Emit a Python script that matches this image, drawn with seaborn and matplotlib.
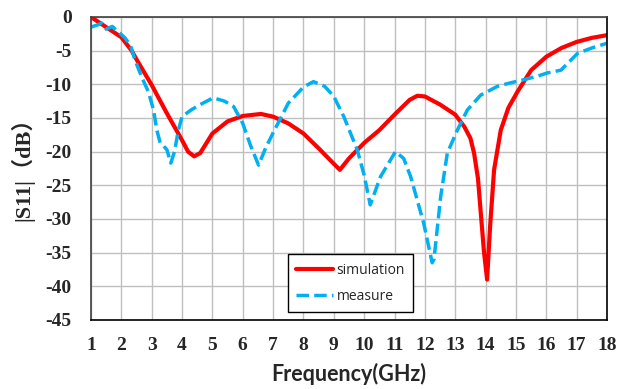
import numpy as np
import pandas as pd
import seaborn as sns
import matplotlib.pyplot as plt

# simulated S11
sim_freq = [1.0, 1.5, 2.0, 2.34, 2.5, 2.75, 3.0, 3.5, 4.0, 4.2, 4.4, 4.6, 5.0, 5.5, 6.0,
            6.6, 7.0, 7.5, 8.0, 8.5, 9.0, 9.2, 9.5, 10.0, 10.5, 11.0, 11.5, 11.75, 12.0,
            12.5, 13.0, 13.3, 13.5, 13.62, 13.75, 13.84, 13.95, 14.05, 14.15, 14.28,
            14.5, 14.75, 15.05, 15.5, 16.0, 16.5, 17.0, 17.5, 18.0]
sim_s11 = [0.0, -1.5, -3.0, -5.0, -6.3, -8.2, -10.1, -14.3, -18.3, -20.0, -20.7, -20.2,
           -17.3, -15.5, -14.7, -14.4, -14.8, -15.8, -17.3, -19.5, -21.8, -22.7, -21.0,
           -18.7, -16.8, -14.5, -12.3, -11.7, -11.8, -13.0, -14.5, -16.3, -18.0, -20.2,
           -24.0, -29.0, -35.0, -39.0, -31.0, -22.7, -16.8, -13.5, -11.1, -7.9, -5.9,
           -4.6, -3.7, -3.1, -2.7]

meas_freq = [1.0, 1.2, 1.35, 1.5, 1.7, 1.9, 2.12, 2.3, 2.45, 2.67, 2.89, 3.06, 3.17,
             3.28, 3.4, 3.5, 3.63, 3.75, 3.88, 4.0, 4.3, 4.6, 5.03, 5.4, 5.7, 6.0,
             6.25, 6.52, 6.75, 7.0, 7.5, 8.0, 8.33, 8.7, 9.0, 9.33, 9.77, 10.0, 10.2,
             10.54, 11.03, 11.3, 11.53, 11.96, 12.24, 12.3, 12.52, 12.74, 13.07,
             13.4, 13.84, 14.39, 14.8, 15.27, 15.7, 16.04, 16.48, 17.03, 17.5, 18.0]
meas_s11 = [-1.5, -1.2, -0.9, -1.8, -1.4, -2.2, -3.1, -4.2, -6.4, -8.9, -11.1, -13.8,
            -16.8, -18.7, -19.2, -19.7, -21.7, -20.0, -16.8, -14.8, -13.8, -13.0,
            -12.0, -12.5, -13.3, -15.8, -19.0, -22.0, -19.5, -17.2, -12.8, -10.4,
            -9.6, -10.3, -11.8, -14.8, -19.7, -23.5, -27.9, -23.7, -20.0, -21.0,
            -23.7, -30.6, -36.5, -36.0, -26.7, -20.2, -16.8, -13.8, -11.6, -10.3,
            -9.8, -9.3, -8.8, -8.3, -7.9, -5.4, -4.6, -3.9]

sim_df = pd.DataFrame({'freq': sim_freq, 's11': sim_s11})
meas_df = pd.DataFrame({'freq': meas_freq, 's11': meas_s11})

sns.set_style("whitegrid")
plt.rcParams['font.family'] = ['Liberation Serif', 'Noto Sans CJK SC']
plt.rcParams['axes.unicode_minus'] = False

fig = plt.figure(figsize=(6.3, 3.89), dpi=100)
ax = fig.add_axes([0.1444, 0.1774, 0.8191, 0.7789])

sns.lineplot(data=sim_df, x='freq', y='s11', ax=ax, color='#FF0000',
             linewidth=3.0, label='simulation', sort=False)
sns.lineplot(data=meas_df, x='freq', y='s11', ax=ax, color='#00B0F0',
             linewidth=2.5, label='measure', sort=False)
ax.lines[1].set_dashes([3.6, 1.5])

ax.set_xlim(1, 18)
ax.set_ylim(-45, 0)
ax.set_xticks(range(1, 19))
ax.set_yticks(range(-45, 1, 5))
ax.grid(True, color='#BFBFBF', linewidth=1.0)
ax.tick_params(axis='both', length=0, labelsize=14)
ax.tick_params(axis='x', pad=12)
ax.tick_params(axis='y', pad=14)
for lab in ax.get_xticklabels() + ax.get_yticklabels():
    lab.set_fontweight('bold')

for s in ['left', 'bottom', 'top', 'right']:
    ax.spines[s].set_visible(True)
    ax.spines[s].set_color('#404040')
    ax.spines[s].set_linewidth(1.2)
ax.spines['bottom'].set_color('black')
ax.spines['right'].set_color('black')

ax.set_xlabel('Frequency(GHz)', fontsize=15.5, fontweight='bold',
              family=['Lato', 'DejaVu Sans'], labelpad=7)
ax.set_ylabel('|S11|（dB）', fontsize=16, fontweight='bold',
              family=['Liberation Serif', 'Noto Sans CJK SC'])
ax.yaxis.set_label_coords(-0.11, 0.515)

leg = ax.legend(loc='lower left', bbox_to_anchor=(0.382, 0.026), borderaxespad=0,
                frameon=True, fancybox=False, edgecolor='black', framealpha=1,
                prop={'family': 'Open Sans', 'size': 10}, handlelength=2.6,
                labelspacing=0.8, borderpad=0.6, handletextpad=0.3)
leg.get_frame().set_linewidth(1.0)

fig.savefig('out.png', dpi=100)
